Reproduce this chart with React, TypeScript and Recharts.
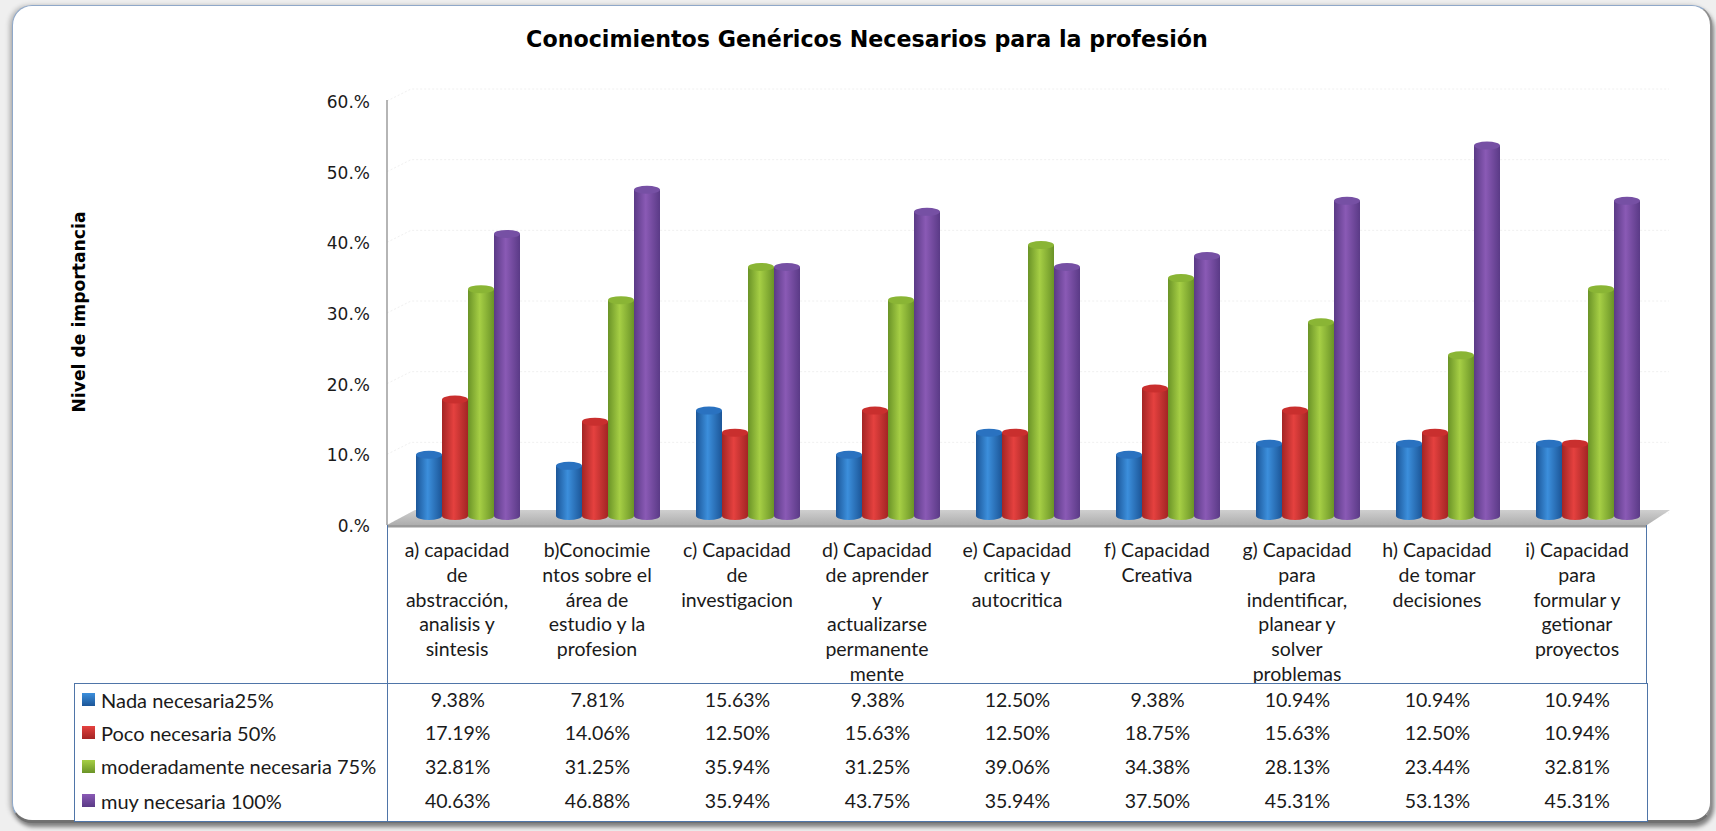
import { BarChart, Bar, XAxis, YAxis, CartesianGrid } from 'recharts'

const W = 1716
const H = 831

const categoryLabels = [
  ['a) capacidad', 'de', 'abstracción,', 'analisis y', 'sintesis'],
  ['b)Conocimie', 'ntos sobre el', 'área de', 'estudio y la', 'profesion'],
  ['c) Capacidad', 'de', 'investigacion'],
  ['d) Capacidad', 'de aprender', 'y', 'actualizarse', 'permanente', 'mente'],
  ['e) Capacidad', 'critica y', 'autocritica'],
  ['f) Capacidad', 'Creativa'],
  ['g) Capacidad', 'para', 'indentificar,', 'planear y', 'solver', 'problemas'],
  ['h) Capacidad', 'de tomar', 'decisiones'],
  ['i) Capacidad', 'para', 'formular y', 'getionar', 'proyectos'],
]

const nada = [9.38, 7.81, 15.63, 9.38, 12.5, 9.38, 10.94, 10.94, 10.94]
const poco = [17.19, 14.06, 12.5, 15.63, 12.5, 18.75, 15.63, 12.5, 10.94]
const moderada = [32.81, 31.25, 35.94, 31.25, 39.06, 34.38, 28.13, 23.44, 32.81]
const muy = [40.63, 46.88, 35.94, 43.75, 35.94, 37.5, 45.31, 53.13, 45.31]

const yTicks = [0, 10, 20, 30, 40, 50, 60]

const seriesList = [
  { key: 'nada', name: 'Nada necesaria25%', values: nada, dark: '#1c5698', mid: '#3c8fdc', top: '#2a72c0' },
  { key: 'poco', name: 'Poco necesaria 50%', values: poco, dark: '#a32524', mid: '#e5413f', top: '#c92f2e' },
  { key: 'moderada', name: 'moderadamente necesaria 75%', values: moderada, dark: '#6a9327', mid: '#a6cf45', top: '#8ab535' },
  { key: 'muy', name: 'muy necesaria 100%', values: muy, dark: '#5a3a86', mid: '#8a5ab5', top: '#7650a4' },
]

// rows in the reference table are not quite evenly spaced
const rowPadding = [3, 5, 7, 7]

const chartData = categoryLabels.map((lines, i) => ({
  category: lines.join(' '),
  lines,
  nada: nada[i],
  poco: poco[i],
  moderada: moderada[i],
  muy: muy[i],
}))

const LABEL_FONT = 'Lato, "Open Sans", sans-serif'
const HAND_FONT = '"DejaVu Sans", sans-serif'

// cylinder look of the excel 3d bars, the foot sits a little under the zero line
const Cylinder = ({ x, y, width, height, fill, topColor }: any) => {
  if (!height) return null
  const rx = width / 2
  const ry = 4
  const bottom = y + height + 3
  return (
    <g>
      <path
        d={`M${x},${y + ry} L${x},${bottom - ry} A${rx},${ry} 0 0 0 ${x + width},${bottom - ry} L${x + width},${y + ry} Z`}
        fill={fill}
      />
      <ellipse cx={x + rx} cy={y + ry} rx={rx} ry={ry} fill={topColor} />
    </g>
  )
}

// back wall gridline, pushed back to look 3d
const WallLine = ({ x1, y1, x2 }: any) => (
  <polyline
    key={y1}
    points={`${x1},${y1 + 8} ${x1 + 24},${y1 - 4} ${x2},${y1 - 4}`}
    fill="none"
    stroke="#f0f0f0"
    strokeDasharray="2 2"
  />
)

const CategoryTick = ({ x, y, payload, index }: any) => {
  const lines = categoryLabels[index] || [payload.value]
  return (
    <text x={x - 11} y={y} textAnchor="middle" fontFamily={LABEL_FONT} fontSize={19.5} fill="#1a1a1a">
      {lines.map((line: string, i: number) => (
        <tspan key={i} x={x - 11} y={y + 32 + i * 24.8}>
          {line}
        </tspan>
      ))}
    </text>
  )
}

const Floor = () => (
  <g>
    <polygon points="387,525 415,510 1670,510 1647,525" fill="url(#floorFill)" />
    <rect x={387} y={525} width={1260} height={2.5} fill="#9a9a9a" />
    <line x1={387} y1={100} x2={387} y2={525} stroke="#9c9c9c" strokeWidth={1.5} />
  </g>
)

const tableCell = {
  textAlign: 'center' as const,
  padding: 0,
  fontFamily: LABEL_FONT,
  fontSize: 19.5,
  color: '#1a1a1a',
}

function DataTable() {
  return (
    <table
      style={{
        position: 'absolute',
        left: 74,
        top: 683,
        width: 1574,
        height: 138,
        background: '#fff',
        borderCollapse: 'collapse',
        tableLayout: 'fixed',
        border: '1.5px solid #4f75a8',
      }}
    >
      <colgroup>
        <col style={{ width: 313 }} />
        {categoryLabels.map((_, i) => (
          <col key={i} style={{ width: 140 }} />
        ))}
      </colgroup>
      <tbody>
        {seriesList.map((s, r) => (
          <tr key={s.key} style={{ height: 34.5 }}>
            <td
              style={{
                ...tableCell,
                fontSize: 20,
                textAlign: 'left',
                borderRight: '1.5px solid #4f75a8',
                whiteSpace: 'nowrap',
                paddingLeft: 7,
                paddingBottom: rowPadding[r],
              }}
            >
              <span
                style={{
                  display: 'inline-block',
                  width: 13,
                  height: 13,
                  marginRight: 6,
                  background: `linear-gradient(180deg, ${s.mid}, ${s.dark})`,
                  position: 'relative',
                  top: -3,
                  verticalAlign: 'middle',
                }}
              />
              {s.name}
            </td>
            {s.values.map((v, i) => (
              <td key={i} style={{ ...tableCell, paddingBottom: rowPadding[r] }}>
                {v.toFixed(2)}%
              </td>
            ))}
          </tr>
        ))}
      </tbody>
    </table>
  )
}

export default function App() {
  return (
    <div style={{ position: 'absolute', left: 0, top: 0, width: W, height: H, background: '#efefef', overflow: 'hidden' }}>
      <div
        style={{
          position: 'absolute',
          left: 12,
          top: 5,
          width: 1700,
          height: 818,
          boxSizing: 'border-box',
          background: '#fff',
          borderRadius: 20,
          borderTop: '1.5px solid #8fa8c9',
          borderLeft: '1.5px solid #8fa8c9',
          borderRight: '2px solid #8e8e8e',
          borderBottom: '3px solid #707070',
          boxShadow: '2px 4px 4px #808080, -3px 0 4px #bdbdbd',
        }}
      />
      <div style={{ position: 'absolute', left: 0, top: 0 }}>
        <BarChart
          width={W}
          height={H}
          data={chartData}
          margin={{ top: 93, right: 47, bottom: 154, left: 307 }}
          barSize={26}
          barGap={0}
        >
          <defs>
            {seriesList.map((s) => (
              <linearGradient key={s.key} id={`fill-${s.key}`} x1="0" y1="0" x2="1" y2="0">
                <stop offset="0%" stopColor={s.dark} />
                <stop offset="45%" stopColor={s.mid} />
                <stop offset="100%" stopColor={s.dark} />
              </linearGradient>
            ))}
            <linearGradient id="floorFill" x1="0" y1="0" x2="0" y2="1">
              <stop offset="0%" stopColor="#cfcfcf" />
              <stop offset="100%" stopColor="#adadad" />
            </linearGradient>
          </defs>
          <CartesianGrid vertical={false} horizontal={WallLine} />
          <XAxis
            dataKey="category"
            height={160}
            interval={0}
            padding={{ left: 11, right: 11 }}
            axisLine={false}
            tickLine={false}
            tick={CategoryTick}
          />
          <YAxis
            width={80}
            domain={[0, 60]}
            ticks={yTicks}
            axisLine={false}
            tickLine={false}
            tickMargin={11}
            tickFormatter={(v: number) => `${v}.%`}
            tick={{ fontFamily: HAND_FONT, fontSize: 17, fill: '#1a1a1a', dy: 9 }}
          />
          <Floor />
          {seriesList.map((s) => (
            <Bar
              key={s.key}
              dataKey={s.key}
              name={s.name}
              fill={`url(#fill-${s.key})`}
              isAnimationActive={false}
              shape={(props: any) => <Cylinder {...props} topColor={s.top} />}
            />
          ))}
        </BarChart>
      </div>
      <div
        style={{
          position: 'absolute',
          left: 340,
          width: 1054,
          top: 26,
          textAlign: 'center',
          fontFamily: HAND_FONT,
          fontWeight: 700,
          fontSize: 22.2,
          color: '#000',
        }}
      >
        Conocimientos Genéricos Necesarios para la profesión
      </div>
      <div
        style={{
          position: 'absolute',
          left: 79,
          top: 312,
          transform: 'translate(-50%, -50%) rotate(-90deg)',
          fontFamily: HAND_FONT,
          fontWeight: 700,
          fontSize: 17.2,
          whiteSpace: 'nowrap',
          color: '#000',
        }}
      >
        Nivel de importancia
      </div>
      <div style={{ position: 'absolute', left: 387, top: 525, width: 1260, height: 158, borderLeft: '1.5px solid #4f75a8', borderRight: '1.5px solid #4f75a8', boxSizing: 'border-box' }} />
      <DataTable />
    </div>
  )
}
